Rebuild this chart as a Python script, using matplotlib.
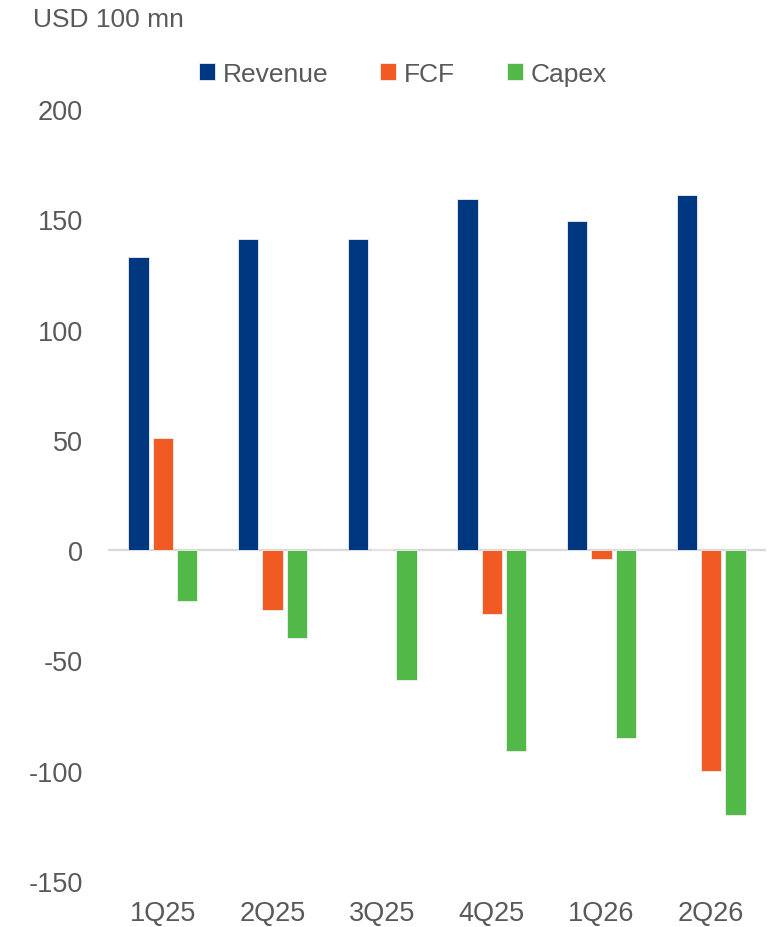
import numpy as np
import matplotlib.pyplot as plt

plt.rcParams['font.family'] = ['Liberation Sans', 'DejaVu Sans']
plt.rcParams['axes.unicode_minus'] = False

# quarterly figures, USD 100 mn
quarters = ['1Q25', '2Q25', '3Q25', '4Q25', '1Q26', '2Q26']
revenue = [133, 141, 141, 159, 149, 161]
fcf = [51, -27, 0.5, -29, -4, -100]
capex = [-23, -40, -59, -91, -85, -120]

series_names = ['Revenue', 'FCF', 'Capex']
colors = ['#003781', '#F15A22', '#52B848']
text_grey = '#595959'

fig = plt.figure(figsize=(7.8, 9.28), dpi=100)
ax = fig.add_axes([0.1385, 0.0496, 0.8435, 0.8319])

x = np.arange(len(quarters))
pitch = 0.223
width = 0.185
for i, (vals, name, c) in enumerate(zip([revenue, fcf, capex], series_names, colors)):
    ax.bar(x + (i - 1) * pitch, vals, width, color=c, label=name,
           edgecolor='#f0f0f0', linewidth=0.6, zorder=3)

ax.axhline(0, color='#d9d9d9', linewidth=1.6, zorder=2)

ax.set_xlim(-0.5, len(quarters) - 0.5)
ax.set_ylim(-150, 200)
ax.set_yticks(np.arange(-150, 201, 50))
ax.set_xticks(x)
ax.set_xticklabels(quarters)

for s in ax.spines.values():
    s.set_visible(False)
ax.tick_params(axis='y', length=0, pad=18, labelsize=19.5, labelcolor=text_grey)
ax.tick_params(axis='x', length=0, pad=14, labelsize=19.5, labelcolor=text_grey)

fig.text(33 / 780, 1 - 20 / 928, 'USD 100 mn', fontsize=19, color=text_grey,
         ha='left', va='center')

leg = fig.legend(loc='center', bbox_to_anchor=(403 / 780, 1 - 75 / 928), ncol=3,
                 frameon=False, fontsize=19, handlelength=0.6, handleheight=0.6,
                 handletextpad=0.32, columnspacing=1.95, borderaxespad=0)
for t in leg.get_texts():
    t.set_color(text_grey)

fig.savefig('out.png', dpi=100)
